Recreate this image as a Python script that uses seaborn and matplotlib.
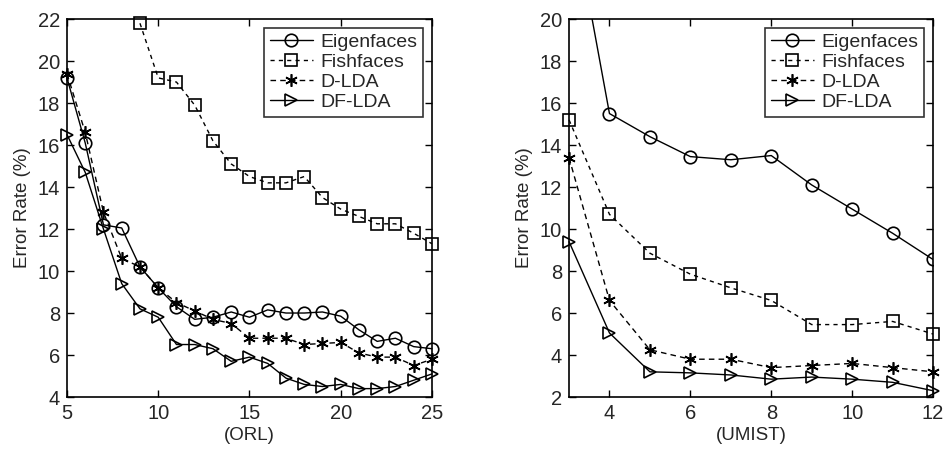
import matplotlib
matplotlib.use("Agg")
import matplotlib.pyplot as plt
import seaborn as sns

# ORL data (training samples per subject 5..25)
orl_x = list(range(5, 26))
orl_eigen = [19.2, 16.1, 12.2, 12.05, 10.2, 9.2, 8.3, 7.7, 7.8, 8.05, 7.8, 8.15,
             8.0, 8.0, 8.05, 7.85, 7.2, 6.65, 6.8, 6.4, 6.3]
orl_fisher = [None, None, None, None, 21.8, 19.2, 19.0, 17.9, 16.2, 15.1, 14.5, 14.2,
              14.2, 14.5, 13.5, 12.95, 12.6, 12.25, 12.25, 11.8, 11.3]
orl_dlda = [19.4, 16.6, 12.8, 10.6, 10.2, 9.2, 8.5, 8.1, 7.7, 7.5, 6.8, 6.8,
            6.8, 6.5, 6.55, 6.6, 6.1, 5.9, 5.9, 5.5, 5.8]
orl_dflda = [16.5, 14.7, 12.0, 9.4, 8.2, 7.8, 6.5, 6.5, 6.3, 5.7, 5.9, 5.6,
             4.9, 4.6, 4.5, 4.6, 4.4, 4.4, 4.5, 4.8, 5.1]

# UMIST data (3..12)
umist_x = list(range(3, 13))
umist_eigen = [26.0, 15.5, 14.4, 13.45, 13.3, 13.5, 12.1, 10.95, 9.8, 8.55]
umist_fisher = [15.2, 10.7, 8.85, 7.85, 7.2, 6.6, 5.45, 5.45, 5.6, 5.0]
umist_dlda = [13.4, 6.6, 4.25, 3.8, 3.8, 3.4, 3.5, 3.6, 3.4, 3.2]
umist_dflda = [9.4, 5.05, 3.2, 3.15, 3.05, 2.85, 2.95, 2.85, 2.7, 2.3]

names = ["Eigenfaces", "Fishfaces", "D-LDA", "DF-LDA"]

sns.set_style("ticks")
plt.rcParams["font.family"] = ["Liberation Sans", "DejaVu Sans"]
plt.rcParams["xtick.direction"] = "in"
plt.rcParams["ytick.direction"] = "in"
plt.rcParams["xtick.top"] = True
plt.rcParams["ytick.right"] = True

styles = [
    dict(marker="o", linestyle="-", markersize=9),
    dict(marker="s", linestyle=(0, (3, 3)), markersize=9),
    dict(marker=(6, 2, 0), linestyle=(0, (4, 3)), markersize=9),
    dict(marker=">", linestyle="-", markersize=9),
]

fig = plt.figure(figsize=(9.46, 4.51), dpi=100)
ax1 = fig.add_axes([0.0708, 0.1197, 0.3858, 0.838])
ax2 = fig.add_axes([0.6015, 0.1197, 0.3848, 0.838])


def draw(ax, x, series, xlim, ylim, xticks, yticks, xlabel):
    for name, ys, st in zip(names, series, styles):
        pts = [(a, b) for a, b in zip(x, ys) if b is not None]
        # markers sit on the frame like in matlab, only clip if a point is off-scale
        inside = all(ylim[0] <= p[1] <= ylim[1] for p in pts)
        sns.lineplot(x=[p[0] for p in pts], y=[p[1] for p in pts], ax=ax,
                     color="black", linewidth=1.0, label=name,
                     markerfacecolor="none", markeredgecolor="black",
                     markeredgewidth=1.2, clip_on=not inside, **st)
    ax.set_xlim(*xlim)
    ax.set_ylim(*ylim)
    ax.set_xticks(xticks)
    ax.set_yticks(yticks)
    ax.tick_params(labelsize=14.5, length=5, width=1, color="black", pad=5)
    for sp in ax.spines.values():
        sp.set_visible(True)
        sp.set_linewidth(1.2)
        sp.set_color("black")
    ax.set_xlabel(xlabel, fontsize=13.5, labelpad=3)
    ax.set_ylabel("Error Rate (%)", fontsize=13.5, labelpad=5)
    leg = ax.legend(loc="upper right", fontsize=14, frameon=True, fancybox=False,
                    handlelength=2.2, borderpad=0.3, labelspacing=0.12,
                    handletextpad=0.4, borderaxespad=0.45)
    leg.get_frame().set_edgecolor("black")
    leg.get_frame().set_linewidth(1.2)


draw(ax1, orl_x, [orl_eigen, orl_fisher, orl_dlda, orl_dflda],
     (5, 25), (4, 22), [5, 10, 15, 20, 25], list(range(4, 23, 2)), "(ORL)")
draw(ax2, umist_x, [umist_eigen, umist_fisher, umist_dlda, umist_dflda],
     (3, 12), (2, 20), [4, 6, 8, 10, 12], list(range(2, 21, 2)), "(UMIST)")

fig.savefig("out.png", dpi=100)
